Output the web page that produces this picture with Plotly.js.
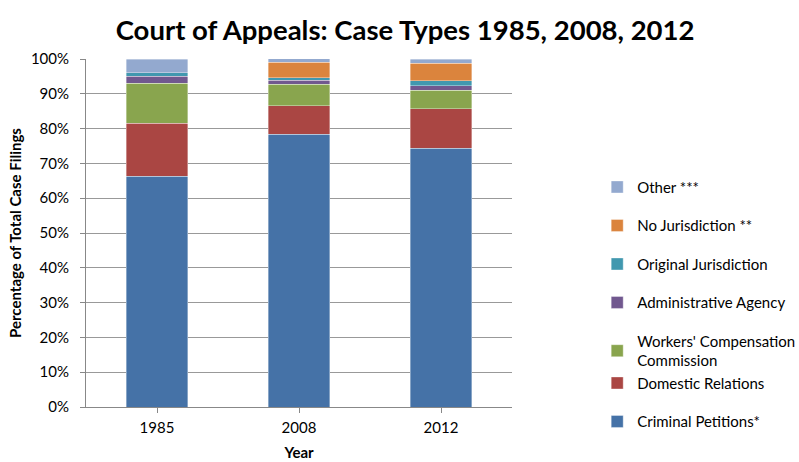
<!DOCTYPE html>
<html><head><meta charset="utf-8">
<script src="https://cdn.plot.ly/plotly-3.0.1.min.js"></script>
<style>html,body{margin:0;padding:0;background:#fff}#chart{width:799px;height:462px}</style>
</head><body><div id="chart"></div>
<script>
var years = ['1985', '2008', '2012'];
var criminal = [66.3, 78.4, 74.3];
var domestic = [15.2, 8.2, 11.4];
var workers = [11.5, 6.1, 5.3];
var admin = [2.1, 1.2, 1.3];
var original = [1.0, 0.7, 1.5];
var noJurisdiction = [0, 4.4, 5.0];
var other = [3.9, 1.2, 1.2];

var seriesNames = ['Criminal Petitions*', 'Domestic Relations', "Workers' Compensation<br>Commission",
  'Administrative Agency', 'Original Jurisdiction', 'No Jurisdiction **', 'Other ***'];
var seriesValues = [criminal, domestic, workers, admin, original, noJurisdiction, other];
var colors = ['#4572A7', '#AA4643', '#89A54E', '#71588F', '#4198AF', '#DB843D', '#93A9CF'];
var groups = ['g0', 'g1', 'g1', 'g3', 'g4', 'g5', 'g6'];

var traces = seriesNames.map(function (n, i) {
  return {
    type: 'bar', x: years, y: seriesValues[i], name: n,
    legendgroup: groups[i], legendrank: 100 - i,
    marker: {color: colors[i], line: {color: 'rgba(255,255,255,0.6)', width: 0.6}},
    width: 0.43,
    hoverinfo: 'name+y'
  };
});

var layout = {
  width: 799, height: 462,
  margin: {l: 86, r: 287, t: 59, b: 55, autoexpand: false},
  barmode: 'stack',
  font: {family: 'Lato, "Open Sans", sans-serif', color: '#000', size: 15},
  title: {text: '<b>Court of Appeals: Case Types 1985, 2008, 2012</b>', x: 0.507, xref: 'container',
    y: 0.955, yref: 'container', font: {size: 27.5, family: 'Lato, "Open Sans", sans-serif'}},
  xaxis: {
    type: 'category', automargin: false,
    showline: true, linecolor: '#888', linewidth: 1,
    ticks: 'outside', ticklen: 5, tickcolor: '#888',
    tickfont: {size: 15}, ticklabelstandoff: 2,
    title: {text: '<b>Year</b>', font: {size: 15}, standoff: 12}
  },
  yaxis: {
    range: [0, 100], dtick: 10, ticksuffix: '%', automargin: false,
    showline: true, linecolor: '#888', linewidth: 1,
    ticks: 'outside', ticklen: 5, tickcolor: '#888',
    gridcolor: '#999', gridwidth: 1,
    tickfont: {size: 15}, ticklabelstandoff: 8,
    title: {text: '<b>Percentage of Total Case Filings</b>', font: {size: 15}, standoff: 5}
  },
  legend: {
    x: 1.2, xref: 'paper', xanchor: 'left', y: 0.679, yanchor: 'top',
    traceorder: 'grouped', tracegroupgap: 16,
    font: {size: 15}, itemwidth: 30, bgcolor: 'rgba(0,0,0,0)'
  },
  showlegend: true,
  plot_bgcolor: '#fff', paper_bgcolor: '#fff'
};

Plotly.newPlot('chart', traces, layout, {displayModeBar: false, staticPlot: true});
</script></body></html>
